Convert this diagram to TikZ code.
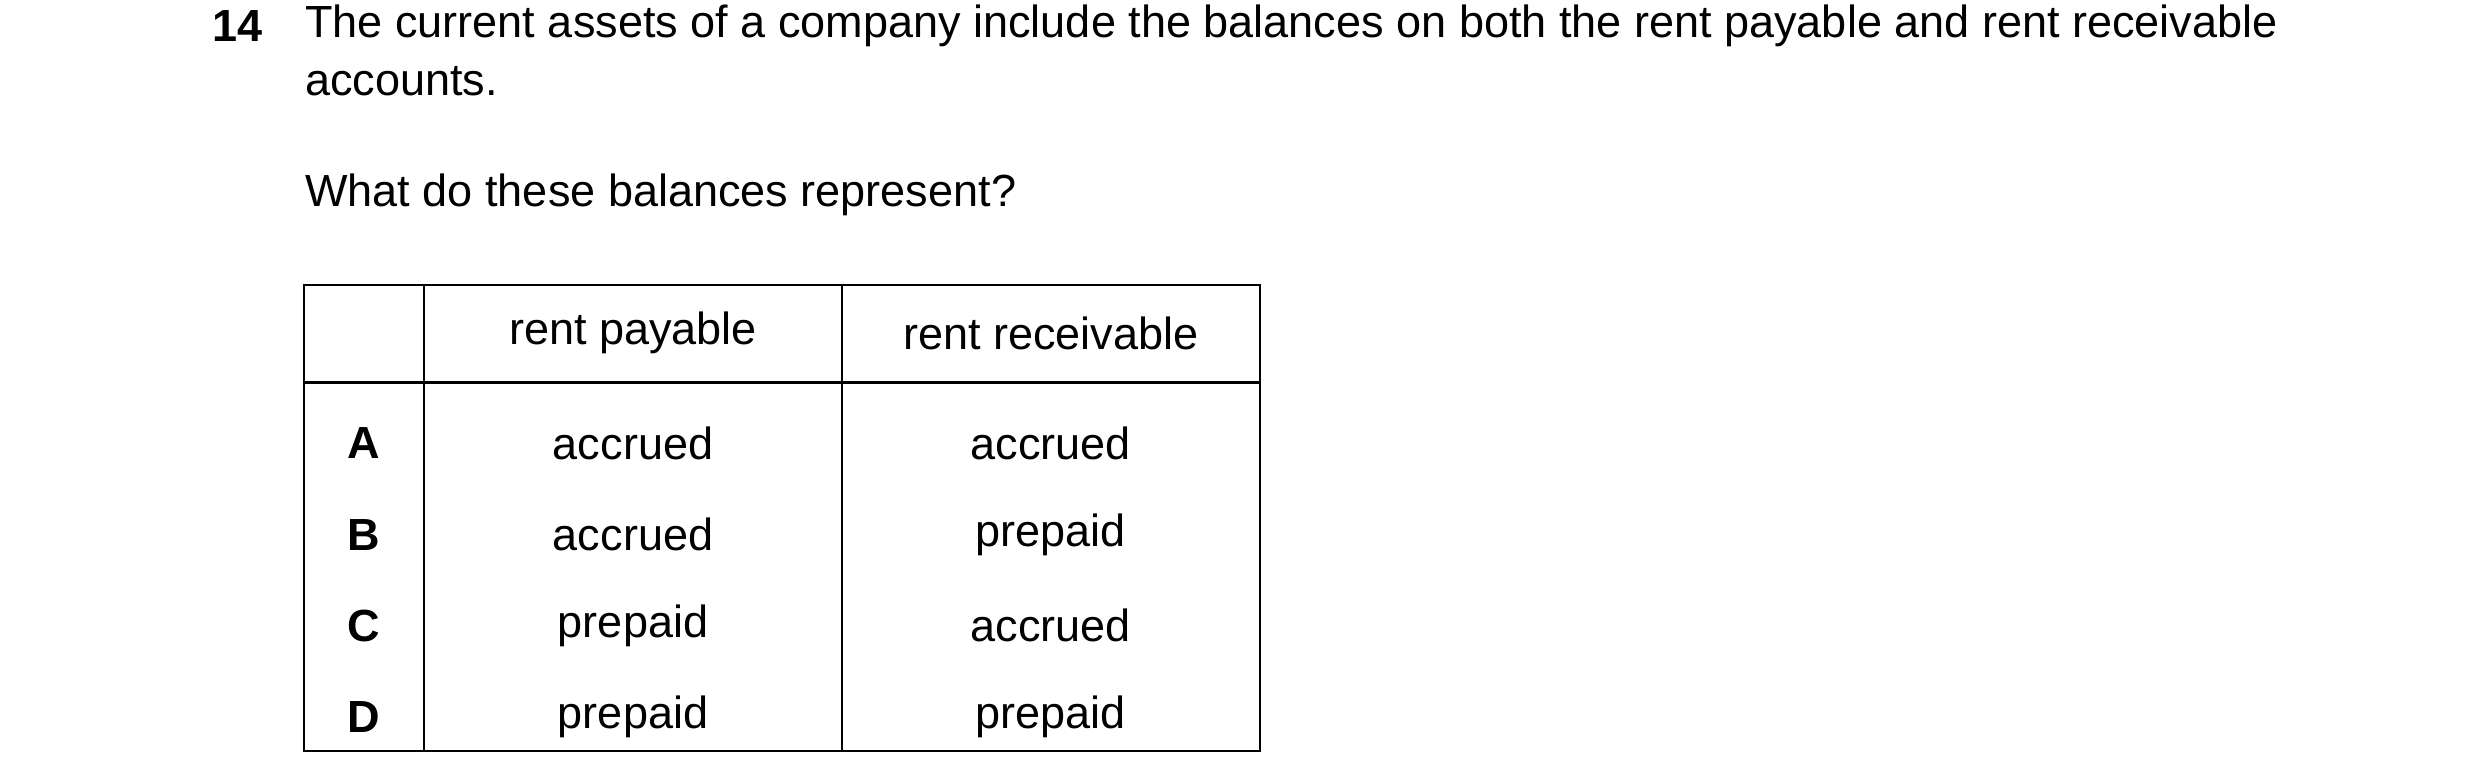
\documentclass[tikz,border=0pt]{standalone}
\usepackage{fontspec}
\setmainfont{Liberation Sans}
\usepackage{tikz}

\begin{document}
\begin{tikzpicture}[x=0.01cm, y=-0.01cm]
    \tikzstyle{txt}=[font=\fontsize{8}{9.5}\selectfont, inner sep=0pt]
    \tikzstyle{cell}=[txt, anchor=center]
    \useasboundingbox (0, 0) rectangle (1550, 489);

    \node[txt, anchor=west, font=\fontsize{8}{9.5}\selectfont\bfseries] (num) at (132, 16) {14};
    \node[txt, anchor=west] (q1) at (190, 16) {The current assets of a company include the balances on both the rent payable and rent receivable};
    \node[txt, anchor=west] (q2) at (190, 51) {accounts.};
    \node[txt, anchor=west] (q3) at (190, 122) {What do these balances represent?};

    \draw (190, 178) rectangle (787, 469);
    \draw (190, 239) -- (787, 239);
    \foreach \x in {265, 526}
        \draw (\x, 178) -- (\x, 469);

    \node[cell] (h1) at (395.5, 208) {rent payable};
    \node[cell] (h2) at (656.5, 208) {rent receivable};

    \foreach \l/\p/\r [count=\i] in {A/accrued/accrued, B/accrued/prepaid, C/prepaid/accrued, D/prepaid/prepaid} {
        \node[cell, font=\fontsize{8}{9.5}\selectfont\bfseries] (L\i) at (227.5, 220+57*\i) {\l};
        \node[cell] (P\i) at (395.5, 220+57*\i) {\p};
        \node[cell] (R\i) at (656.5, 220+57*\i) {\r};
    }
\end{tikzpicture}
\end{document}
